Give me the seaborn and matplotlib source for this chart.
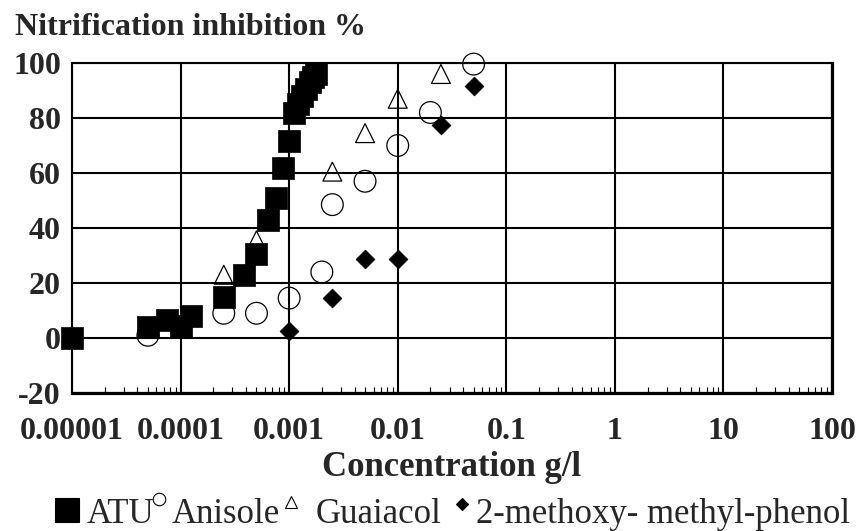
import matplotlib
matplotlib.use("Agg")
import matplotlib.pyplot as plt
from matplotlib.lines import Line2D
from matplotlib.ticker import FixedLocator, FixedFormatter, LogLocator, NullFormatter
import seaborn as sns

# Dose-response data: concentration (g/l) vs nitrification inhibition (%)
atu_conc = [0.00001, 0.00005, 0.000075, 0.0001, 0.000125, 0.00025, 0.00038,
            0.0005, 0.00064, 0.00075, 0.00087, 0.001, 0.0011, 0.0012, 0.0013,
            0.00143, 0.00155, 0.00166, 0.00177]
atu_inhib = [0, 4, 6.5, 4.5, 8, 15, 23, 30.5, 43, 51, 62, 71.5, 82, 85, 88,
             90.5, 93, 95, 96]

anisole_conc = [0.00005, 0.00025, 0.0005, 0.001, 0.002, 0.0025, 0.005, 0.01, 0.02, 0.05]
anisole_inhib = [1, 9, 9, 14.5, 24, 48.5, 57, 70, 82, 99.6]

guaiacol_conc = [0.00025, 0.0005, 0.0025, 0.005, 0.01, 0.025]
guaiacol_inhib = [23, 35.5, 60.5, 74.5, 87, 96]

mmp_conc = [0.001, 0.0025, 0.005, 0.01, 0.025, 0.05]
mmp_inhib = [2.5, 14.5, 28.7, 28.7, 77.5, 91.6]

x_ticks = [0.00001, 0.0001, 0.001, 0.01, 0.1, 1, 10, 100]
x_tick_labels = ["0.00001", "0.0001", "0.001", "0.01", "0.1", "1", "10", "100"]
y_ticks = [-20, 0, 20, 40, 60, 80, 100]

sns.set_style("white")
plt.rcParams["font.family"] = ["Liberation Serif", "DejaVu Serif"]

W, H = 866, 531
fig = plt.figure(figsize=(W / 100, H / 100), dpi=100)
ax = fig.add_axes([72 / W, 1 - 393 / H, 760 / W, 330 / H])

# Open markers first, filled markers on top
sns.scatterplot(x=anisole_conc, y=anisole_inhib, marker="o", s=245,
                facecolor="none", edgecolor="black", linewidth=0.9,
                ax=ax, clip_on=False, zorder=3)
sns.scatterplot(x=guaiacol_conc, y=guaiacol_inhib, marker="^", s=185,
                facecolor="none", edgecolor="black", linewidth=0.9,
                ax=ax, clip_on=False, zorder=3)
sns.scatterplot(x=mmp_conc, y=mmp_inhib, marker="D", s=92,
                facecolor="black", edgecolor="black", linewidth=0.5,
                ax=ax, clip_on=False, zorder=4)
sns.scatterplot(x=atu_conc, y=atu_inhib, marker="s", s=250,
                facecolor="black", edgecolor="black", linewidth=0.5,
                ax=ax, clip_on=False, zorder=5)

ax.set_xscale("log")
ax.set_xlim(x_ticks[0], x_ticks[-1])
ax.set_ylim(-20, 100)

ax.xaxis.set_major_locator(FixedLocator(x_ticks))
ax.xaxis.set_major_formatter(FixedFormatter(x_tick_labels))
ax.xaxis.set_minor_locator(LogLocator(base=10, subs=[2, 3, 4, 5, 6, 7, 8, 9], numticks=20))
ax.xaxis.set_minor_formatter(NullFormatter())
ax.yaxis.set_major_locator(FixedLocator(y_ticks))
ax.set_yticklabels([str(v) for v in y_ticks])

ax.tick_params(axis="x", which="major", length=0, pad=17, labelsize=23)
ax.tick_params(axis="x", which="minor", direction="in", length=4, width=0.8,
               color="black", bottom=True, top=False)
ax.tick_params(axis="y", which="major", length=0, pad=8, labelsize=23)
for lbl in ax.get_xticklabels() + ax.get_yticklabels():
    lbl.set_fontweight("bold")

ax.set_axisbelow(True)
ax.grid(True, which="major", color="black", linewidth=1.5)
ax.grid(False, which="minor")

for side, lw in {"left": 1.5, "top": 1.5, "right": 2.3, "bottom": 2.3}.items():
    ax.spines[side].set_visible(True)
    ax.spines[side].set_color("black")
    ax.spines[side].set_linewidth(lw)

ax.set_xlabel("Concentration g/l", fontsize=25, fontweight="bold", labelpad=4)
ax.set_ylabel("")

fig.text(15 / W, 1 - 35 / H, "Nitrification inhibition %", fontsize=23,
         fontweight="bold", ha="left", va="baseline")

# Key row below the axis title
def key_marker(px, py, marker, size, filled):
    fig.add_artist(Line2D([px / W], [1 - py / H], transform=fig.transFigure,
                          marker=marker, markersize=size, linestyle="none",
                          markerfacecolor="black" if filled else "none",
                          markeredgecolor="black", markeredgewidth=0.8))

def key_text(px, text):
    fig.text(px / W, 1 - 523 / H, text, fontsize=25, ha="left", va="baseline")

key_marker(67, 510, "s", 17, True)
key_text(87, "ATU")
key_marker(159, 499, "o", 9, False)
key_text(172, "Anisole")
key_marker(291, 502, "^", 9, False)
key_text(316, "Guaiacol")
key_marker(462, 504, "D", 6.5, True)
key_text(476, "2-methoxy- methyl-phenol")

fig.savefig("out.png", dpi=100, facecolor="white")
